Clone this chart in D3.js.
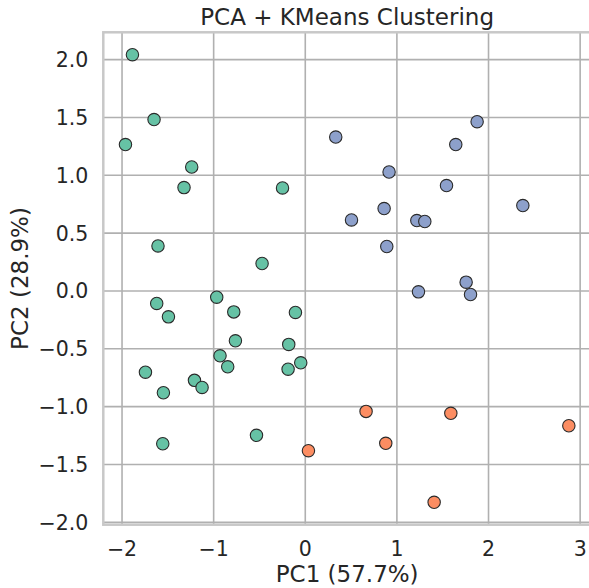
<!DOCTYPE html>
<html>
<head>
<meta charset="utf-8">
<script src="https://cdn.jsdelivr.net/npm/d3@7"></script>
<style>
  html, body { margin: 0; padding: 0; background: #fff; }
  svg { display: block; }
  text { font-family: "DejaVu Sans", sans-serif; fill: #262626; }
</style>
</head>
<body>
<svg id="chart" width="589" height="588"></svg>
<script>
// ---- data ----
const clusterNames = ["Cluster 0", "Cluster 1", "Cluster 2"];
const clusterColors = ["#66c2a5", "#8da0cb", "#fc8d62"];

const cluster0PC1 = [-1.881, -1.645, -1.957, -1.234, -1.318, -0.243, -1.602, -0.466, -1.616, -1.488,
                     -0.961, -0.775, -0.102, -0.757, -0.175, -0.925, -0.841, -0.044, -0.182, -1.739,
                     -1.204, -1.121, -1.543, -0.527, -1.550];
const cluster0PC2 = [2.038, 1.477, 1.261, 1.067, 0.889, 0.886, 0.385, 0.233, -0.112, -0.228,
                     -0.058, -0.185, -0.190, -0.435, -0.466, -0.565, -0.660, -0.625, -0.680, -0.706,
                     -0.777, -0.838, -0.884, -1.252, -1.325];

const cluster1PC1 = [0.338, 1.881, 1.648, 0.920, 1.547, 2.380, 0.866, 0.510, 1.223, 1.310, 0.895, 1.761, 1.241, 1.809];
const cluster1PC2 = [1.326, 1.459, 1.261, 1.024, 0.907, 0.734, 0.708, 0.610, 0.604, 0.596, 0.380, 0.072, -0.012, -0.035];

const cluster2PC1 = [0.669, 1.594, 2.882, 0.884, 0.040, 1.412];
const cluster2PC2 = [-1.045, -1.062, -1.169, -1.321, -1.385, -1.831];

const xTicks = [-2, -1, 0, 1, 2, 3];
const yTicks = [-2.0, -1.5, -1.0, -0.5, 0.0, 0.5, 1.0, 1.5, 2.0];

const titleText = "PCA + KMeans Clustering";
const xLabelText = "PC1 (57.7%)";
const yLabelText = "PC2 (28.9%)";

// ---- build points ----
const series = [
  {pc1: cluster0PC1, pc2: cluster0PC2},
  {pc1: cluster1PC1, pc2: cluster1PC2},
  {pc1: cluster2PC1, pc2: cluster2PC2}
];
const points = [];
series.forEach((s, ci) => s.pc1.forEach((v, i) => points.push({x: v, y: s.pc2[i], c: ci})));

// ---- layout ----
const pL = 103.3, pR = 591, pT = 32.3, pB = 524.7;

const xExt = d3.extent(points, d => d.x);
const yExt = d3.extent(points, d => d.y);
const xPad = (xExt[1] - xExt[0]) * 0.05, yPad = (yExt[1] - yExt[0]) * 0.05;

const x = d3.scaleLinear().domain([xExt[0] - xPad, xExt[1] + xPad]).range([pL, pR]);
const y = d3.scaleLinear().domain([yExt[0] - yPad, yExt[1] + yPad]).range([pB, pT]);

const svg = d3.select("#chart");

svg.append("defs").append("clipPath").attr("id", "plotclip")
  .append("rect").attr("x", pL).attr("y", pT).attr("width", pR - pL).attr("height", pB - pT);

// grid via axes
const gridX = svg.append("g").attr("transform", `translate(0,${pB})`)
  .call(d3.axisBottom(x).tickValues(xTicks).tickSize(-(pB - pT)).tickFormat(""));
gridX.select(".domain").remove();
gridX.selectAll("line").attr("stroke", "#b0b0b0").attr("stroke-width", 1.6);

const gridY = svg.append("g").attr("transform", `translate(${pL},0)`)
  .call(d3.axisLeft(y).tickValues(yTicks).tickSize(-(pR - pL)).tickFormat(""));
gridY.select(".domain").remove();
gridY.selectAll("line").attr("stroke", "#b0b0b0").attr("stroke-width", 1.6);

// spines
svg.append("rect").attr("x", pL).attr("y", pT).attr("width", pR - pL).attr("height", pB - pT)
  .attr("fill", "none").attr("stroke", "#c8c8c8").attr("stroke-width", 2.5);

// tick labels
const fmtX = d => d < 0 ? "\u2212" + Math.abs(d) : String(d);
const fmtY = d => (d < 0 ? "\u2212" : "") + Math.abs(d).toFixed(1);

const axX = svg.append("g").attr("transform", `translate(0,${pB})`)
  .call(d3.axisBottom(x).tickValues(xTicks).tickSize(0).tickPadding(0).tickFormat(fmtX));
axX.select(".domain").remove();
axX.selectAll("text").attr("y", 31).attr("dy", null)
  .style("font-size", "20.5px").style("font-family", "DejaVu Sans").attr("fill", "#262626");

const axY = svg.append("g").attr("transform", `translate(${pL},0)`)
  .call(d3.axisLeft(y).tickValues(yTicks).tickSize(0).tickPadding(0).tickFormat(fmtY));
axY.select(".domain").remove();
axY.selectAll("text").attr("x", -15).attr("dy", "0.36em")
  .style("font-size", "20.5px").style("font-family", "DejaVu Sans").attr("fill", "#262626");

// points
svg.append("g").attr("clip-path", "url(#plotclip)")
  .selectAll("circle").data(points).enter().append("circle")
  .attr("cx", d => x(d.x)).attr("cy", d => y(d.y)).attr("r", 6.2)
  .attr("fill", d => clusterColors[d.c]).attr("stroke", "#2a2a2a").attr("stroke-width", 1.1);

// title & labels
svg.append("text").attr("x", (pL + pR) / 2).attr("y", 25).attr("text-anchor", "middle")
  .style("font-size", "23px").text(titleText);
svg.append("text").attr("x", (pL + pR) / 2).attr("y", 581.5).attr("text-anchor", "middle")
  .style("font-size", "23px").text(xLabelText);
svg.append("text").attr("transform", `translate(28.3,${(pT + pB) / 2}) rotate(-90)`)
  .attr("text-anchor", "middle").style("font-size", "23px").text(yLabelText);
</script>
</body>
</html>
